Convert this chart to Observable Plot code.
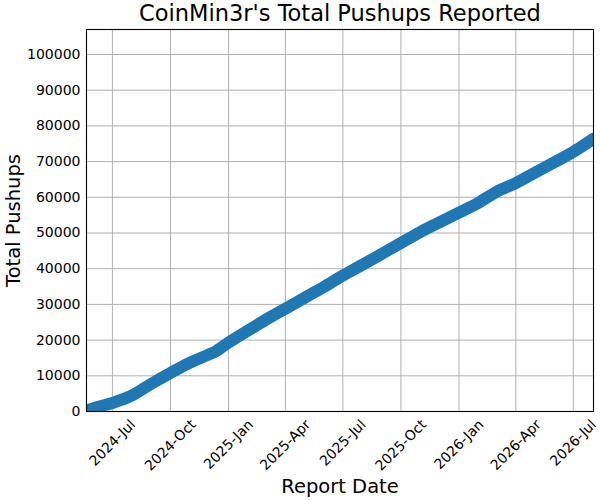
<!DOCTYPE html>
<html><head><meta charset="utf-8">
<script src="https://cdn.jsdelivr.net/npm/d3@7"></script>
<script src="https://cdn.jsdelivr.net/npm/@observablehq/plot@0.6"></script>
<style>body{margin:0;background:#fff;}</style>
</head><body><div id="chart"></div>
<script>
const titleText = "CoinMin3r's Total Pushups Reported";
const xLabel = "Report Date";
const yLabel = "Total Pushups";
const reportDates = ["2024-05-21","2024-06-10","2024-07-01","2024-08-01","2024-09-01","2024-10-01","2024-11-01","2024-12-01","2024-12-12","2025-01-01","2025-02-01","2025-03-01","2025-04-01","2025-05-01","2025-06-01","2025-07-01","2025-08-01","2025-09-01","2025-10-01","2025-11-01","2025-12-01","2026-01-01","2026-02-01","2026-03-01","2026-04-01","2026-05-01","2026-06-01","2026-07-01","2026-08-02"];
const totalPushups = [300,1400,2400,4500,7800,10800,13700,16000,16900,19300,22700,25700,28800,31800,34900,38100,41100,44200,47200,50300,53000,55700,58500,61500,64000,66900,69800,72700,76400];
const yTicks = [0,10000,20000,30000,40000,50000,60000,70000,80000,90000,100000];
const xTickDates = ["2024-07-01","2024-10-01","2025-01-01","2025-04-01","2025-07-01","2025-10-01","2026-01-01","2026-04-01","2026-07-01"];
const yMax = 107000;

const data = reportDates.map((d, i) => ({date: new Date(d + "T00:00:00Z"), total: totalPushups[i]}));
const xTicks = xTickDates.map(d => new Date(d + "T00:00:00Z"));
const fmt = d3.utcFormat("%Y-%b");

const tickFont = 14;
const ctx = document.createElement("canvas").getContext("2d");
ctx.font = tickFont + "px 'DejaVu Sans'";
const tickLabelMarks = xTicks.map(t => {
  const w = ctx.measureText(fmt(t)).width;
  const h = tickFont * 1.164;
  const dy = 5 + (w + h) * Math.SQRT1_2 / 2;
  return Plot.text([t], {x: d => d, text: d => fmt(d), frameAnchor: "bottom", rotate: -45, dy, fontSize: tickFont, textAnchor: "middle", lineAnchor: "middle", fill: "black"});
});

const chart = Plot.plot({
  width: 600, height: 500,
  marginLeft: 86, marginRight: 7, marginTop: 29, marginBottom: 89,
  style: {fontFamily: "'DejaVu Sans', sans-serif", background: "white", color: "black"},
  x: {type: "utc", domain: [data[0].date, data[data.length - 1].date]},
  y: {domain: [0, yMax]},
  marks: [
    Plot.gridY(yTicks, {stroke: "#b0b0b0", strokeOpacity: 1, strokeWidth: 1}),
    Plot.gridX(xTicks, {stroke: "#b0b0b0", strokeOpacity: 1, strokeWidth: 1}),
    Plot.line(data, {x: "date", y: "total", stroke: "#1f77b4", strokeWidth: 12, strokeLinecap: "round", strokeLinejoin: "round", curve: "monotone-x", clip: "frame"}),
    Plot.axisY(yTicks, {tickSize: 0, tickPadding: 6, fontSize: tickFont, tickFormat: d3.format("d"), label: null, fill: "black"}),
    Plot.axisX([], {tickSize: 0, label: null}),
    ...tickLabelMarks,
    Plot.frame({stroke: "black", strokeWidth: 1.1}),
    Plot.text([titleText], {frameAnchor: "top", dy: -16, fontSize: 22.5, textAnchor: "middle", lineAnchor: "middle", fill: "black"}),
    Plot.text([yLabel], {frameAnchor: "left", dx: -73, rotate: -90, fontSize: 19.5, textAnchor: "middle", lineAnchor: "middle", fill: "black"}),
    Plot.text([xLabel], {frameAnchor: "bottom", dy: 75, fontSize: 19.5, textAnchor: "middle", lineAnchor: "middle", fill: "black"})
  ]
});
document.getElementById("chart").appendChild(chart);
</script>
</body></html>
